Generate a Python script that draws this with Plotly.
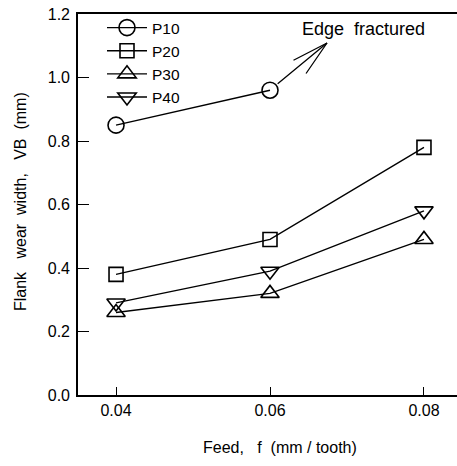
import plotly.graph_objects as go

feed = [0.04, 0.06, 0.08]
p10 = [0.85, 0.96]
p20 = [0.38, 0.49, 0.78]
p30 = [0.26, 0.32, 0.49]
p40 = [0.29, 0.39, 0.58]
series_names = ["P10", "P20", "P30", "P40"]
x_ticks = [0.04, 0.06, 0.08]
x_ticktext = ["0.04", "0.06", "0.08"]
y_ticks = [0.0, 0.2, 0.4, 0.6, 0.8, 1.0, 1.2]
y_ticktext = ["0.0", "0.2", "0.4", "0.6", "0.8", "1.0", "1.2"]

symbols = ["circle-open", "square-open", "triangle-up-open", "triangle-down-open"]
sizes = [16, 14, 16, 16]
data = [p10, p20, p30, p40]

W, H = 457, 466
L, R, T, B = 78, 0, 14, 71
XR = [0.03506, 0.08429]
YR = [0.0, 1.2]

def px_to_x(px):
    return XR[0] + (px - L) / (W - L - R) * (XR[1] - XR[0])

def py_to_y(py):
    return YR[1] - (py - T) / (H - T - B) * (YR[1] - YR[0])

fig = go.Figure()
for name, vals, sym, sz in zip(series_names, data, symbols, sizes):
    fig.add_trace(go.Scatter(
        x=feed[:len(vals)], y=vals, name=name, mode="lines+markers",
        line=dict(color="black", width=1.4),
        marker=dict(symbol=sym, size=sz, color="black", line=dict(width=1.6, color="black")),
    ))

font_family = "Liberation Sans, Arial, sans-serif"

# "Edge fractured" arrow: shaft from last P10 point, open V head
tip = (px_to_x(327), py_to_y(43))
fig.add_annotation(x=tip[0], y=tip[1], ax=feed[1], ay=p10[1], xref="x", yref="y",
                   axref="x", ayref="y", showarrow=True, arrowhead=0, arrowwidth=1.3,
                   arrowcolor="black", startstandoff=8, text="")
for wx, wy in [(292, 61), (305, 75)]:
    fig.add_annotation(x=tip[0], y=tip[1], ax=px_to_x(wx), ay=py_to_y(wy), xref="x", yref="y",
                       axref="x", ayref="y", showarrow=True, arrowhead=0, arrowwidth=1.3,
                       arrowcolor="black", text="")
fig.add_annotation(x=px_to_x(363.5), y=py_to_y(29), xref="x", yref="y",
                   text="Edge&nbsp;&nbsp;fractured", showarrow=False,
                   font=dict(size=18, color="black", family=font_family))

# axis titles
fig.add_annotation(x=(280 - L) / (W - L - R), y=-(448 - (H - B)) / (H - T - B),
                   xref="paper", yref="paper", xanchor="center", yanchor="middle",
                   text="Feed,&nbsp;&nbsp; f&nbsp; (mm / tooth)",
                   showarrow=False, font=dict(size=16, color="black", family=font_family))
fig.add_annotation(x=-(L - 20) / (W - L - R), y=((H - B) - 202) / (H - T - B),
                   xref="paper", yref="paper", xanchor="center", yanchor="middle", textangle=-90,
                   text="Flank&nbsp;&nbsp; wear&nbsp; width,&nbsp;&nbsp; VB&nbsp; (mm)",
                   showarrow=False, font=dict(size=16, color="black", family=font_family))

fig.update_layout(
    width=W, height=H,
    margin=dict(l=L, r=R, t=T, b=B, autoexpand=False),
    plot_bgcolor="white", paper_bgcolor="white",
    font=dict(family=font_family, size=16, color="black"),
    showlegend=True,
    legend=dict(x=(102 - L) / (W - L - R), y=1 - (11 - T) / (H - T - B),
                xanchor="left", yanchor="top", bgcolor="rgba(0,0,0,0)",
                font=dict(size=15.5), itemwidth=40, tracegroupgap=0),
    xaxis=dict(range=XR, tickvals=x_ticks, ticktext=x_ticktext,
               ticks="inside", ticklen=8, tickwidth=1.3, tickcolor="black",
               showline=True, linecolor="black", linewidth=1.6, mirror=True,
               showgrid=False, zeroline=False, tickfont=dict(size=16), automargin=False),
    yaxis=dict(range=YR, tickvals=y_ticks, ticktext=y_ticktext,
               ticks="inside", ticklen=11, tickwidth=1.3, tickcolor="black",
               showline=True, linecolor="black", linewidth=1.6,
               showgrid=False, zeroline=False, tickfont=dict(size=16),
               ticklabelstandoff=3, automargin=False),
)

fig.write_html("out.html", config={"displayModeBar": False},
               post_script="document.body.style.margin='0';document.body.style.overflow='hidden';")
